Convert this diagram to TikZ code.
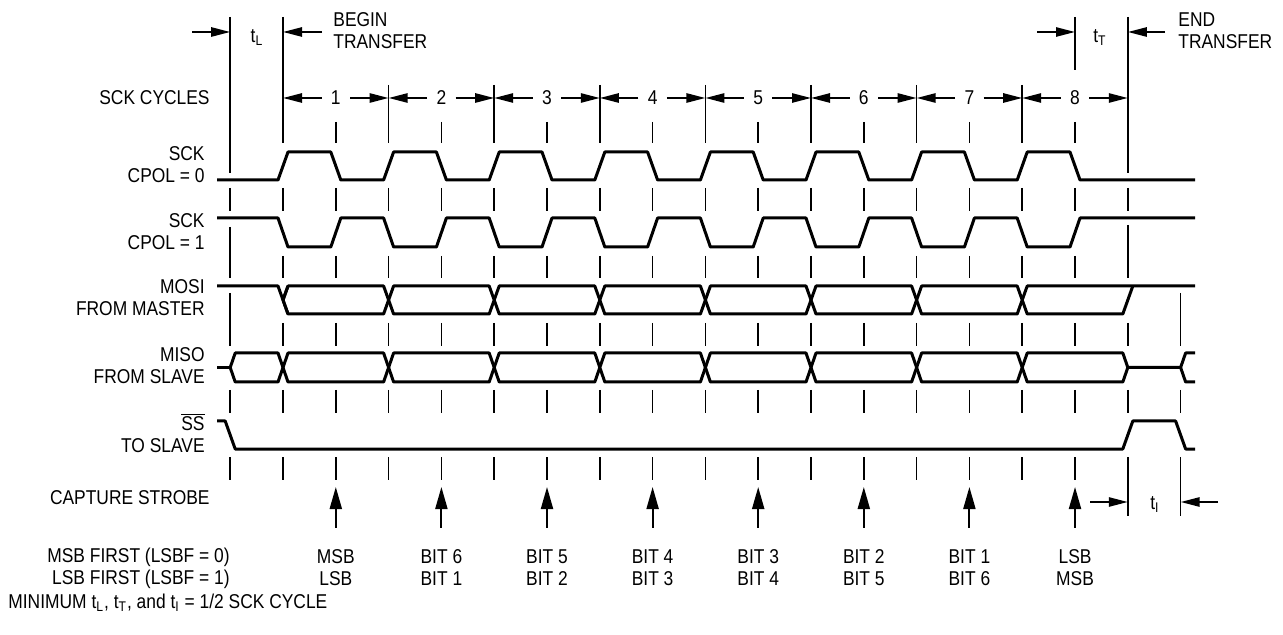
\documentclass[tikz,border=0pt]{standalone}
\usepackage{fontspec}
\setmainfont{Liberation Sans}[FakeStretch=0.87]
\usetikzlibrary{arrows.meta}
\def\xs{283}
\def\hc{52.8}

\begin{document}
\begin{tikzpicture}[x=0.5pt, y=-0.5pt,
  every node/.style={font=\fontsize{10}{11}\selectfont, inner sep=0pt},
  wave/.style={line width=1.5pt, line join=round},
  tick/.style={line width=0.8pt},
  dim/.style={line width=1pt, -{Triangle[length=9.5pt, width=4.6pt]}},
  strobe/.style={line width=1pt, -{Triangle[length=11pt, width=6pt]}},
  lbl/.style={anchor=east, align=right}]
  \useasboundingbox (0,0) rectangle (1283,635);

  % signal names
  \node[lbl] (sckcyc) at (210,98) {SCK CYCLES};
  \node[lbl] (sck0) at (205,165) {SCK\\CPOL = 0};
  \node[lbl] (sck1) at (205,232) {SCK\\CPOL = 1};
  \node[lbl] (mosi) at (205,298) {MOSI\\FROM MASTER};
  \node[lbl] (miso) at (205,366) {MISO\\FROM SLAVE};
  \node[lbl] (ss) at (205,433) {$\overline{\hbox{SS}}$\\TO SLAVE};
  \node[lbl] (capt) at (210,498) {CAPTURE STROBE};
  \node[lbl] (order) at (230,568) {MSB FIRST (LSBF = 0)\\LSB FIRST (LSBF = 1)};
  \node[anchor=west] (minnote) at (8,603)
    {MINIMUM t\textsubscript{L}, t\textsubscript{T}, and t\textsubscript{I} = 1/2 SCK CYCLE};

  % lead and trail timing
  \node (tl) at (257,38) {t\textsubscript{L}};
  \node[anchor=west, align=left] (begin) at (333,31) {BEGIN\\TRANSFER};
  \node (tt) at (1100,38) {t\textsubscript{T}};
  \node[anchor=west, align=left] (end) at (1178,31) {END\\TRANSFER};
  \node (ti) at (1155,505) {t\textsubscript{I}};
  \coordinate (tla) at (192,32);  \coordinate (tlb) at ({\xs-\hc},32);
  \coordinate (bta) at (322,32);  \coordinate (btb) at (\xs,32);
  \coordinate (tta) at (1037,32); \coordinate (ttb) at ({\xs+15*\hc},32);
  \coordinate (eta) at (1165,32); \coordinate (etb) at ({\xs+16*\hc},32);
  \coordinate (tia) at (1090,502); \coordinate (tib) at ({\xs+16*\hc},502);
  \coordinate (tic) at (1218,502); \coordinate (tid) at ({\xs+17*\hc},502);
  \draw[dim] (tla) -- (tlb);
  \draw[dim] (bta) -- (btb);
  \draw[dim] (tta) -- (ttb);
  \draw[dim] (eta) -- (etb);
  \draw[dim] (tia) -- (tib);
  \draw[dim] (tic) -- (tid);

  % cycle numbers
  \foreach \i in {1,...,8} {
    \pgfmathsetmacro\xx{\xs+\hc*(2*\i-1)}
    \node[inner sep=4.5pt] (cyc\i) at (\xx,98) {\i};
    \coordinate (cl\i) at ({\xx-\hc},98);
    \coordinate (cr\i) at ({\xx+\hc},98);
    \draw[dim] (cyc\i) -- (cl\i);
    \draw[dim] (cyc\i) -- (cr\i);
  }

  % bit order and capture strobes
  \foreach \i/\a/\b in {1/MSB/LSB, 2/BIT 6/BIT 1, 3/BIT 5/BIT 2, 4/BIT 4/BIT 3,
                        5/BIT 3/BIT 4, 6/BIT 2/BIT 5, 7/BIT 1/BIT 6, 8/LSB/MSB} {
    \pgfmathsetmacro\xx{\xs+\hc*(2*\i-1)}
    \node[align=center] (bit\i) at (\xx,568) {\a\\\b};
    \coordinate (cap\i) at (\xx,487);
    \draw[strobe, shorten <=11pt] (bit\i.north) -- (cap\i);
  }

  % timing marks
  \draw[tick] ({\xs-\hc},17) -- ({\xs-\hc},173);
  \draw[tick] (\xs,17) -- (\xs,143);
  \draw[tick] ({\xs+15*\hc},17) -- ({\xs+15*\hc},70);
  \draw[tick] ({\xs+16*\hc},17) -- ({\xs+16*\hc},173);
  \foreach \k in {2,4,...,14} \draw[tick] ({\xs+\hc*\k},85) -- ++(0,58);
  \foreach \k in {1,3,...,15} \draw[tick] ({\xs+\hc*\k},122) -- ++(0,21);
  \foreach \k in {-1,...,16} \draw[tick] ({\xs+\hc*\k},188) -- ++(0,23);
  \foreach \k in {0,...,15} \draw[tick] ({\xs+\hc*\k},256) -- ++(0,22);
  \draw[tick] ({\xs-\hc},227) -- ({\xs-\hc},278);
  \draw[tick] ({\xs+16*\hc},225) -- ({\xs+16*\hc},278);
  \foreach \k in {0,...,16} \draw[tick] ({\xs+\hc*\k},323) -- ++(0,23);
  \draw[tick] ({\xs-\hc},293) -- ({\xs-\hc},346);
  \draw[tick] ({\xs+17*\hc},293) -- ({\xs+17*\hc},346);
  \foreach \k in {-1,...,17} \draw[tick] ({\xs+\hc*\k},390) -- ++(0,23);
  \foreach \k in {-1,...,15} \draw[tick] ({\xs+\hc*\k},457) -- ++(0,23);
  \draw[tick] ({\xs+16*\hc},457) -- ({\xs+16*\hc},516);
  \draw[tick] ({\xs+17*\hc},457) -- ({\xs+17*\hc},516);

  % SCK, CPOL = 0 and CPOL = 1
  \draw[wave] (217,180) foreach \k in {0,2,...,14} {
      -- ({\xs+\hc*\k-5},180) -- ({\xs+\hc*\k+5},152)
      -- ({\xs+\hc*(\k+1)-5},152) -- ({\xs+\hc*(\k+1)+5},180) } -- (1195,180);
  \draw[wave] (217,218) foreach \k in {0,2,...,14} {
      -- ({\xs+\hc*\k-5},218) -- ({\xs+\hc*\k+5},247)
      -- ({\xs+\hc*(\k+1)-5},247) -- ({\xs+\hc*(\k+1)+5},218) } -- (1195,218);

  % MOSI
  \draw[wave] (217,286) -- ({\xs-5},286) -- ({\xs+5},314);
  \draw[wave] (\xs,300) -- ({\xs+5},286);
  \foreach \k in {0,2,...,12}
    \draw[wave] ({\xs+\hc*\k},300) -- ({\xs+\hc*\k+5},286) -- ({\xs+\hc*(\k+2)-5},286)
      -- ({\xs+\hc*(\k+2)},300) -- ({\xs+\hc*(\k+2)-5},314) -- ({\xs+\hc*\k+5},314) -- cycle;
  \draw[wave] ({\xs+14*\hc},300) -- ({\xs+14*\hc+5},286) -- (1195,286);
  \draw[wave] ({\xs+14*\hc},300) -- ({\xs+14*\hc+5},314) -- ({\xs+16*\hc-5},314)
    -- ({\xs+16*\hc+5},286);

  % MISO
  \draw[wave] (217,367.5) -- ({\xs-\hc},367.5);
  \foreach \a/\b in {-1/0, 0/2, 2/4, 4/6, 6/8, 8/10, 10/12, 12/14, 14/16}
    \draw[wave] ({\xs+\hc*\a},367.5) -- ({\xs+\hc*\a+5},353) -- ({\xs+\hc*\b-5},353)
      -- ({\xs+\hc*\b},367.5) -- ({\xs+\hc*\b-5},382) -- ({\xs+\hc*\a+5},382) -- cycle;
  \draw[wave] ({\xs+16*\hc},367.5) -- ({\xs+17*\hc},367.5) -- ({\xs+17*\hc+5},353) -- (1195,353);
  \draw[wave] ({\xs+17*\hc},367.5) -- ({\xs+17*\hc+5},382) -- (1195,382);

  % SS
  \draw[wave] (217,421) -- ({\xs-\hc-5},421) -- ({\xs-\hc+5},449) -- ({\xs+16*\hc-5},449)
    -- ({\xs+16*\hc+5},421) -- ({\xs+17*\hc-5},421) -- ({\xs+17*\hc+5},449) -- (1195,449);
\end{tikzpicture}
\end{document}
